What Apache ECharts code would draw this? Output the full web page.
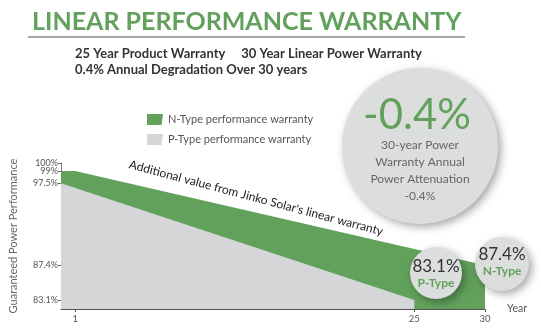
<!DOCTYPE html>
<html>
<head>
<meta charset="utf-8">
<script src="https://cdn.jsdelivr.net/npm/echarts@6/dist/echarts.min.js"></script>
<style>html,body{margin:0;padding:0;background:#fff;}#c{width:541px;height:333px;}</style>
</head>
<body>
<div id="c"></div>
<script>
const seriesNames = ['N-Type performance warranty', 'P-Type performance warranty'];
const nTypeYears = [0, 1, 30];
const nTypeValues = [99, 99, 87.4];
const pTypeYears = [0, 25];
const pTypeValues = [97.5, 83.1];
const xTickValues = [1, 25, 30];
const yTickValues = [100, 99, 97.5, 87.4, 83.1];
const attenuation = '-0.4%';

const GREEN = '#62a15c';
const GRAY = '#d4d6d7';
const FONT = 'Lato';

const chart = echarts.init(document.getElementById('c'), null, {renderer: 'canvas'});

const circleStyle = {
  fill: '#dcdddd',
  shadowBlur: 8,
  shadowColor: 'rgba(0,0,0,0.35)',
  shadowOffsetX: 3,
  shadowOffsetY: 3
};

const yLabelStyle = {formatter: v => v + '%', color: '#555', fontFamily: FONT, fontSize: 9, margin: 3, hideOverlap: false};

const option = {
  backgroundColor: '#fff',
  animation: false,
  title: [
    {text: 'LINEAR PERFORMANCE WARRANTY', left: 27, top: 4,
     textStyle: {color: GREEN, fontFamily: FONT, fontWeight: 'bold', fontSize: 25}},
    {text: '25 Year Product Warranty     30 Year Linear Power Warranty', left: 70, top: 42,
     textStyle: {color: '#333', fontFamily: FONT, fontWeight: 'bold', fontSize: 13}},
    {text: '0.4% Annual Degradation Over 30 years', left: 70, top: 58,
     textStyle: {color: '#333', fontFamily: FONT, fontWeight: 'bold', fontSize: 13}}
  ],
  legend: {
    orient: 'vertical', left: 142, top: 109, itemWidth: 16, itemHeight: 11, itemGap: 9,
    icon: 'path://M0,0H16L14.5,11H0Z',
    textStyle: {color: '#555', fontFamily: FONT, fontSize: 11},
    data: seriesNames
  },
  grid: {left: 57, right: 56, top: 163, bottom: 24},
  xAxis: {
    type: 'value', min: 0, max: 30,
    name: 'Year', nameLocation: 'end', nameGap: 22,
    nameTextStyle: {color: '#555', fontFamily: FONT, fontSize: 10.5},
    axisLine: {lineStyle: {color: '#555', width: 1.2}},
    axisTick: {show: true, length: 3, customValues: xTickValues, lineStyle: {color: '#555'}},
    axisLabel: {customValues: xTickValues, color: '#555', fontFamily: FONT, fontSize: 9.5, margin: 5},
    splitLine: {show: false}
  },
  yAxis: [
    {
      type: 'value', min: 82, max: 100, position: 'left',
      name: 'Guaranteed Power Performance', nameLocation: 'middle', nameGap: 42,
      nameTextStyle: {color: '#666', fontFamily: FONT, fontSize: 11},
      axisLine: {show: true, lineStyle: {color: '#777', width: 1}},
      axisTick: {show: true, length: 3, customValues: yTickValues.slice(1), lineStyle: {color: '#666'}},
      axisLabel: Object.assign({customValues: yTickValues.slice(1)}, yLabelStyle),
      splitLine: {show: false}
    },
    {
      type: 'value', min: 82, max: 100, position: 'left', offset: 0,
      axisLine: {show: false},
      axisTick: {show: true, length: 3, customValues: yTickValues.slice(0, 1), lineStyle: {color: '#666'}},
      axisLabel: Object.assign({customValues: yTickValues.slice(0, 1), showMaxLabel: true}, yLabelStyle),
      splitLine: {show: false}
    }
  ],
  series: [
    {
      name: seriesNames[0], type: 'line', z: 1, symbol: 'none',
      itemStyle: {color: GREEN}, lineStyle: {width: 0},
      areaStyle: {color: GREEN, opacity: 1},
      data: nTypeYears.map((y, i) => [y, nTypeValues[i]])
    },
    {
      name: seriesNames[1], type: 'line', z: 2, symbol: 'none',
      itemStyle: {color: GRAY}, lineStyle: {width: 0},
      areaStyle: {color: GRAY, opacity: 1},
      data: pTypeYears.map((y, i) => [y, pTypeValues[i]])
    }
  ],
  graphic: [
    {type: 'line', shape: {x1: 28, y1: 37, x2: 465, y2: 37}, style: {stroke: '#888', lineWidth: 1.5}},
    {type: 'text', x: 256, y: 198, rotation: -0.26, z: 20,
     style: {text: "Additional value from Jinko Solar's linear warranty", fill: '#222',
       font: '12px ' + FONT, textAlign: 'center', textVerticalAlign: 'middle'}},
    {type: 'circle', shape: {cx: 420, cy: 146, r: 78}, style: circleStyle, z: 30},
    {type: 'text', x: 417, y: 115, z: 31,
     style: {text: attenuation, fill: GREEN, font: '42px ' + FONT, textAlign: 'center', textVerticalAlign: 'middle'}},
    {type: 'text', x: 420, y: 171, z: 31,
     style: {text: '30-year Power\nWarranty Annual\nPower Attenuation\n' + attenuation, fill: '#666',
       font: '12px ' + FONT, lineHeight: 17, textAlign: 'center', textVerticalAlign: 'middle'}},
    {type: 'circle', shape: {cx: 436, cy: 273, r: 26}, style: circleStyle, z: 30},
    {type: 'text', x: 436, y: 267, z: 31,
     style: {text: pTypeValues[pTypeValues.length - 1] + '%', fill: '#333', font: '17px ' + FONT,
       textAlign: 'center', textVerticalAlign: 'middle'}},
    {type: 'text', x: 436, y: 283, z: 31,
     style: {text: 'P-Type', fill: GREEN, font: 'bold 12px ' + FONT, textAlign: 'center', textVerticalAlign: 'middle'}},
    {type: 'circle', shape: {cx: 502, cy: 264, r: 27}, style: circleStyle, z: 30},
    {type: 'text', x: 502, y: 255, z: 31,
     style: {text: nTypeValues[nTypeValues.length - 1] + '%', fill: '#333', font: '17px ' + FONT,
       textAlign: 'center', textVerticalAlign: 'middle'}},
    {type: 'text', x: 502, y: 271, z: 31,
     style: {text: 'N-Type', fill: GREEN, font: 'bold 12px ' + FONT, textAlign: 'center', textVerticalAlign: 'middle'}}
  ]
};
chart.setOption(option);
</script>
</body>
</html>
